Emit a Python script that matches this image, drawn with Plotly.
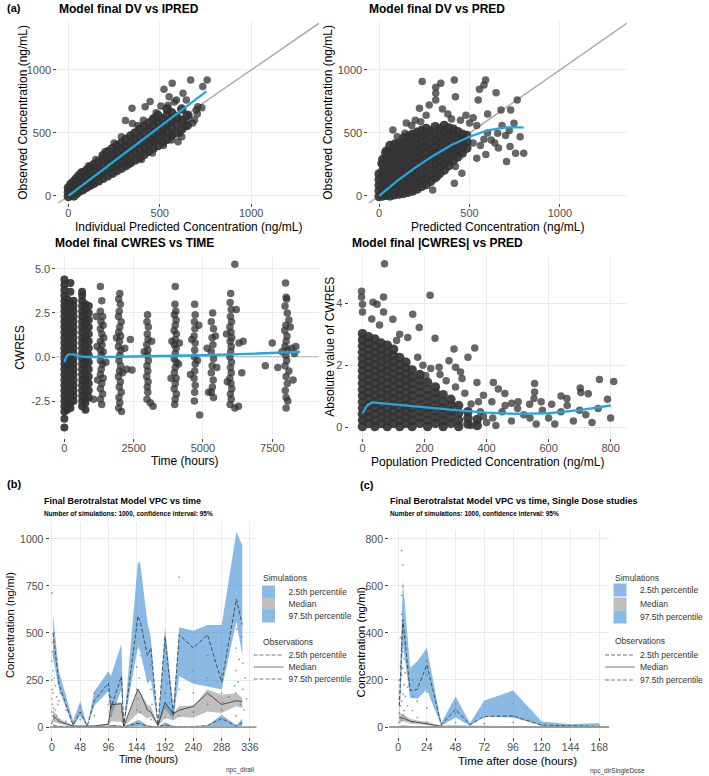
import plotly.graph_objects as go

W, H = 709, 776
FONT = "Liberation Sans, Arial, sans-serif"

# ===================== DATA =====================
# (a1) DV vs IPRED : dense core columns (IPRED, [DV...]) + scattered points
dv_ipred_columns = [
    (0, [-5, 30, 65]), (15, [10, 50, 95]), (30, [0, 35, 75, 115]), (45, [20, 60, 100, 140]),
    (60, [40, 80, 125, 165]), (80, [50, 95, 140, 185]), (100, [70, 115, 160, 205]),
    (120, [85, 130, 180, 225]), (140, [100, 150, 200, 250]), (165, [120, 170, 220, 270]),
    (190, [140, 190, 240, 290, 320]), (215, [160, 210, 260, 310, 350]),
    (240, [180, 230, 280, 330, 375]), (265, [200, 250, 300, 350, 400]),
    (290, [220, 270, 320, 370, 420]), (315, [240, 295, 345, 395, 450]),
    (340, [265, 315, 370, 420, 475]), (365, [285, 340, 395, 445, 500]),
    (390, [305, 360, 415, 470, 530]), (415, [330, 385, 440, 500, 555]),
    (440, [355, 410, 465, 525, 580]), (465, [380, 435, 495, 550, 610]),
    (490, [400, 460, 520, 580, 640]), (515, [425, 490, 550, 610]),
    (540, [450, 515, 575, 640, 690]), (565, [480, 540, 600, 660]),
    (590, [500, 570, 630]), (620, [530, 600, 690]), (650, [560, 640]),
]
dv_ipred_points = [
    (669, 921), (759, 921), (568, 894), (523, 847), (551, 788), (591, 762), (627, 815), (645, 762),
    (708, 709), (735, 868), (447, 749), (348, 696), (420, 709), (506, 714), (312, 598), (699, 683),
    (609, 603), (609, 497), (600, 431), (564, 444), (636, 550), (690, 603), (474, 444), (250, 420),
    (200, 350), (380, 560), (480, 660), (545, 720), (580, 745), (660, 640), (705, 650), (730, 700),
    (650, 590), (520, 500), (560, 470), (470, 610), (410, 600), (350, 575), (290, 470), (620, 470),
    (680, 580), (150, 290), (110, 240), (70, 190), (400, 290), (330, 250), (460, 340), (520, 400),
]
dv_ipred_smooth_x = [0, 100, 200, 300, 400, 500, 600, 700, 755]
dv_ipred_smooth_y = [0, 110, 220, 330, 440, 550, 660, 770, 830]

# (a2) DV vs PRED
dv_pred_columns = [
    (0, [-5, 40, 85, 130, 175]),
    (20, [0, 50, 100, 150, 200, 250, 290]),
    (40, [5, 55, 105, 155, 205, 255, 305, 355]),
    (60, [0, 50, 100, 150, 200, 250, 300, 350, 400]),
    (85, [10, 60, 110, 160, 210, 260, 310, 360, 410]),
    (110, [15, 65, 115, 165, 215, 265, 315, 365, 420]),
    (135, [20, 70, 120, 170, 220, 270, 320, 370, 420, 460]),
    (160, [30, 80, 130, 180, 230, 280, 330, 380, 430, 475]),
    (185, [40, 90, 140, 190, 240, 290, 340, 390, 440, 490]),
    (210, [55, 105, 155, 205, 255, 305, 355, 405, 455, 505]),
    (235, [75, 125, 175, 225, 275, 325, 375, 425, 475, 520]),
    (260, [90, 140, 190, 240, 290, 340, 390, 440, 490, 535]),
    (285, [115, 165, 215, 265, 315, 365, 415, 465, 515]),
    (310, [145, 195, 245, 295, 345, 395, 445, 495, 550]),
    (335, [180, 230, 280, 330, 380, 430, 480, 530]),
    (360, [205, 255, 305, 355, 405, 455, 505, 560]),
    (385, [240, 290, 340, 390, 440, 490, 540]),
    (410, [280, 330, 380, 430, 480, 530]),
    (435, [310, 360, 410, 460, 510]),
    (460, [340, 390, 440, 490]),
    (485, [380, 430, 480]),
]
dv_pred_points = [
    (238, 908), (341, 894), (313, 863), (313, 815), (416, 921), (589, 921), (580, 881), (555, 847),
    (647, 820), (764, 762), (728, 683), (674, 683), (548, 762), (422, 788), (313, 762), (223, 696),
    (277, 722), (76, 524), (142, 497), (746, 577), (800, 339), (755, 339), (705, 273), (724, 392),
    (656, 497), (620, 444), (422, 233), (458, 180), (416, 101), (323, 153), (296, 48), (600, 500),
    (680, 560), (700, 480), (640, 420), (560, 400), (520, 620), (480, 640), (380, 650), (350, 690),
    (260, 640), (200, 600), (150, 580), (600, 650), (540, 560), (720, 520), (780, 470), (660, 380),
    (590, 330), (540, 300), (450, 600), (500, 580), (400, 610), (230, 590), (180, 560), (100, 470),
    (30, 340), (10, 260), (520, 420), (580, 450),
]
dv_pred_smooth_x = [0, 50, 100, 200, 300, 400, 500, 600, 700, 800]
dv_pred_smooth_y = [0, 60, 120, 225, 320, 405, 470, 520, 545, 545]

# (a3) CWRES vs TIME
cwres_columns = [
    (0, [4.4, 4.1, 3.8, 3.5, 3.2, 2.9, 2.6, 2.3, 2.0, 1.7, 1.4, 1.1, 0.8, 0.5, 0.2, -0.1, -0.4,
         -0.7, -1.0, -1.3, -1.6, -1.9, -2.2, -2.5, -2.8, -3.1, -3.5, -4.0]),
    (100, [3.3, 3.0, 2.7, 2.4, 2.1, 1.8, 1.5, 1.2, 0.9, 0.6, 0.3, 0.0, -0.3, -0.6, -0.9, -1.2,
           -1.5, -1.8, -2.1, -2.4, -2.7, -3.0]),
    (220, [4.2, 3.7, 3.1, 2.8, 2.5, 2.2, 1.9, 1.6, 1.3, 1.0, 0.7, 0.4, 0.1, -0.2, -0.5, -0.8,
           -1.1, -1.4, -1.7, -2.0, -2.3, -2.6, -2.9]),
    (330, [3.2, 2.9, 2.6, 2.3, 2.0, 1.7, 1.4, 1.1, 0.8, 0.5, 0.2, -0.1, -0.4, -0.7, -1.0, -1.3,
           -1.6, -1.9, -2.2, -2.5]),
    (640, [3.7, 3.5, 3.2, 2.9, 2.6, 2.3, 2.0, 1.7, 1.4, 1.1, 0.8, 0.5, 0.2, -0.1, -0.4, -0.7,
           -1.0, -1.3, -1.6, -1.9, -2.2, -2.5, -2.8]),
    (760, [3.0, 2.7, 2.4, 2.1, 1.8, 1.5, 1.2, 0.9, 0.6, 0.3, 0.0, -0.3, -0.6, -0.9, -1.2, -1.5,
           -1.8, -2.1, -2.4, -2.6, -3.0]),
    (880, [2.9, 2.5, 2.1, 1.7, 1.3, 0.9, 0.5, 0.1, -0.3, -0.7, -1.1, -1.5, -1.9, -2.3]),
]
cwres_points = [
    (1300, 4.0), (1350, 3.2), (1300, 2.6), (1380, 2.3), (1320, 2.0), (1400, 1.8), (1300, 1.6),
    (1350, 1.3), (1420, 1.1), (1300, 0.9), (1360, 0.7), (1300, 0.4), (1400, 0.3), (1330, 0.1),
    (1300, -0.2), (1380, -0.4), (1330, -0.7), (1300, -1.0), (1400, -1.2), (1350, -1.5), (1300, -1.8),
    (1380, -2.1), (1300, -2.4), (1350, -2.7), (1150, 2.3), (1180, 0.6), (1500, -0.3), (1050, -2.4),
    (1200, -1.3),
    (2000, 3.6), (1960, 3.3), (2020, 3.0), (1980, 2.6), (1950, 2.3), (2050, 2.0), (2000, 1.7),
    (1960, 1.4), (2030, 1.2), (1990, 0.9), (1950, 0.6), (2040, 0.4), (2000, 0.1), (1970, -0.2),
    (2030, -0.5), (1990, -0.8), (1950, -1.1), (2020, -1.4), (1980, -1.7), (2050, -2.0), (1970, -2.3),
    (2000, -2.6), (1960, -2.9), (2060, -3.1), (1880, 1.1), (2100, -0.9), (2180, 0.5), (2250, -0.7),
    (2380, 1.0), (2440, -0.74),
    (3000, 2.4), (2980, 2.0), (3030, 1.7), (2990, 1.3), (3020, 1.0), (2970, 0.7), (3010, 0.4),
    (2990, 0.1), (3030, -0.2), (2980, -0.5), (3010, -0.8), (2970, -1.1), (3020, -1.4), (2990, -1.7),
    (3010, -2.0), (2980, -2.4), (3200, -2.8), (3100, -2.6), (2880, 0.3), (3150, 0.9),
    (4000, 4.0), (3990, 3.0), (4020, 2.6), (3970, 2.4), (4030, 2.1), (4000, 1.8), (3960, 1.5),
    (4040, 1.3), (4000, 1.0), (3970, 0.7), (4030, 0.5), (4000, 0.2), (3960, -0.1), (4040, -0.3),
    (4000, -0.6), (3970, -0.9), (4030, -1.2), (4000, -1.5), (3960, -1.8), (4040, -2.1), (4000, -2.4),
    (3980, -2.7), (3880, 0.9), (4120, -0.4), (4150, 0.8), (3850, -1.2),
    (4700, 3.0), (4720, 2.4), (4690, 2.0), (4710, 1.6), (4680, 1.2), (4720, 0.8), (4700, 0.4),
    (4690, 0.0), (4720, -0.4), (4700, -0.8), (4680, -1.2), (4720, -1.6), (4700, -2.0), (4690, -2.5),
    (4880, -3.3), (4600, 1.0), (4800, -0.2), (4850, 1.8), (4550, -1.0),
    (5350, 2.5), (5300, 2.0), (5380, 1.6), (5330, 1.1), (5360, 0.7), (5300, 0.3), (5380, -0.1),
    (5330, -0.5), (5300, -0.9), (5370, -1.3), (5340, -1.7), (5300, -2.0), (5380, -2.3), (5200, -2.0),
    (5450, 1.2), (5500, -0.6), (5150, 0.5),
    (6000, 3.6), (5980, 3.1), (6020, 2.7), (6200, 2.7), (5990, 2.3), (6030, 2.0), (5970, 1.7),
    (6010, 1.4), (6040, 1.1), (5980, 0.9), (6020, 0.6), (6000, 0.3), (5970, 0.0), (6030, -0.3),
    (5990, -0.6), (6020, -0.9), (5970, -1.2), (6010, -1.5), (6040, -1.8), (5990, -2.1), (6020, -2.4),
    (5980, -2.7), (6150, -2.9), (6280, -2.8), (6150, 5.27), (6300, 0.8), (6450, 0.9), (6400, -0.9),
    (5850, 1.3), (5880, -1.4),
    (7980, 4.2), (8000, 3.4), (8020, 3.3), (7960, 2.9), (8040, 2.5), (8100, 2.1), (7990, 1.8),
    (7950, 1.5), (8150, 1.7), (8030, 1.2), (8000, 0.9), (7960, 0.6), (8050, 0.4), (8200, 0.5),
    (7990, 0.1), (8020, -0.2), (7960, -0.5), (8100, -0.8), (8000, -1.1), (8040, -1.5), (7970, -1.9),
    (8000, -2.3), (8060, -2.5), (8000, -2.9), (8300, 0.2), (8350, 0.6), (7850, 0.3), (7700, -0.6),
    (7500, 0.8), (7250, -0.5), (8250, -1.3),
]
cwres_smooth_x = [0, 60, 150, 300, 500, 800, 1500, 3000, 5000, 7000, 8500]
cwres_smooth_y = [-0.3, 0.0, 0.15, 0.15, 0.05, 0.0, 0.0, 0.03, 0.1, 0.2, 0.3]

# (a4) |CWRES| vs PRED
abs_cwres_columns = [
    (0, [0.02, 0.22, 0.42, 0.62, 0.82, 1.02, 1.22, 1.42, 1.62, 1.82, 2.02, 2.22, 2.42, 2.62, 2.82, 3.02]),
    (20, [0.12, 0.32, 0.52, 0.72, 0.92, 1.12, 1.32, 1.52, 1.72, 1.92, 2.12, 2.32, 2.52, 2.72, 2.92]),
    (40, [0.02, 0.22, 0.42, 0.62, 0.82, 1.02, 1.22, 1.42, 1.62, 1.82, 2.02, 2.22, 2.42, 2.62, 2.85]),
    (60, [0.12, 0.32, 0.52, 0.72, 0.92, 1.12, 1.32, 1.52, 1.72, 1.92, 2.12, 2.32, 2.52, 2.72]),
    (80, [0.02, 0.22, 0.42, 0.62, 0.82, 1.02, 1.22, 1.42, 1.62, 1.82, 2.02, 2.22, 2.42, 2.65]),
    (100, [0.12, 0.32, 0.52, 0.72, 0.92, 1.12, 1.32, 1.52, 1.72, 1.92, 2.12, 2.32, 2.52]),
    (120, [0.02, 0.22, 0.42, 0.62, 0.82, 1.02, 1.22, 1.42, 1.62, 1.82, 2.02, 2.25]),
    (140, [0.12, 0.32, 0.52, 0.72, 0.92, 1.12, 1.32, 1.52, 1.72, 1.92, 2.1]),
    (160, [0.02, 0.22, 0.42, 0.62, 0.82, 1.02, 1.22, 1.42, 1.62, 1.85]),
    (185, [0.12, 0.32, 0.52, 0.72, 0.92, 1.12, 1.32, 1.52, 1.7]),
    (210, [0.02, 0.22, 0.42, 0.62, 0.82, 1.02, 1.22, 1.45]),
    (235, [0.12, 0.32, 0.52, 0.72, 0.92, 1.12, 1.3]),
    (260, [0.02, 0.22, 0.42, 0.62, 0.82, 1.05]),
    (285, [0.12, 0.32, 0.52, 0.72, 0.9]),
    (310, [0.02, 0.22, 0.45, 0.7]),
    (340, [0.1, 0.3, 0.5]),
    (370, [0.05, 0.25]),
]
abs_cwres_points = [
    (71, 5.28), (-3, 4.39), (-3, 4.21), (0, 3.97), (0, 3.72), (34, 4.04), (47, 3.97), (68, 4.21),
    (68, 3.72), (98, 3.49), (162, 3.65), (183, 3.22), (218, 4.26), (234, 2.87), (295, 2.53),
    (362, 2.56), (340, 2.26), (279, 2.15), (369, 1.44), (422, 1.44), (438, 1.23), (555, 1.41),
    (555, 1.14), (553, 0.93), (702, 1.27), (704, 1.12), (728, 1.08), (764, 1.54), (810, 1.48),
    (640, 1.01), (659, 0.93), (610, 0.74), (576, 0.82), (539, 0.74), (502, 0.82), (481, 0.77),
    (459, 1.09), (417, 0.82), (390, 1.03), (374, 0.82), (321, 1.57), (316, 1.78), (300, 1.94),
    (247, 1.94), (204, 1.67), (178, 2.26), (146, 2.9), (30, 3.5), (55, 3.3), (120, 3.0), (110, 2.8),
    (420, 0.3), (450, 0.5), (480, 0.2), (520, 0.4), (560, 0.1), (600, 0.3), (640, 0.5), (680, 0.2),
    (720, 0.4), (760, 0.6), (800, 0.3), (430, 0.05), (500, 0.6), (580, 0.55), (660, 0.7),
    (740, 0.15), (790, 0.9), (380, 0.5), (400, 0.15), (460, 0.7), (540, 0.3), (620, 0.1),
    (700, 0.55), (350, 0.75), (330, 1.1), (300, 1.3), (270, 1.5), (250, 1.7), (220, 1.9),
    (195, 2.0), (350, 0.05), (390, 0.35),
]
abs_cwres_smooth_x = [0, 15, 30, 80, 200, 300, 400, 500, 600, 700, 800]
abs_cwres_smooth_y = [0.45, 0.7, 0.8, 0.75, 0.65, 0.55, 0.47, 0.43, 0.45, 0.55, 0.7]

# (b) VPC vs time (all studies)
b_time = [2, 12, 36, 48, 60, 72, 96, 100, 118, 122, 146, 150, 162, 168, 180, 192, 206, 216, 240, 264, 288, 313, 323]
b_p975_ci_hi = [592, 297, 34, 136, 5, 190, 297, 270, 441, 10, 880, 870, 560, 470, 8, 530, 110, 530, 512, 543, 543, 1038, 968]
b_p975_ci_lo = [370, 200, 3, 60, 2, 115, 190, 50, 200, 3, 430, 400, 230, 250, 3, 100, 40, 270, 230, 215, 200, 560, 380]
b_obs_p975 = [500, 230, 10, 80, 5, 140, 235, 100, 270, 5, 590, 560, 380, 420, 10, 480, 60, 490, 420, 490, 240, 680, 545]
b_p50_ci_hi = [90, 45, 8, 8, 6, 8, 20, 130, 130, 6, 200, 185, 120, 110, 12, 130, 75, 110, 115, 200, 172, 180, 155]
b_p50_ci_lo = [30, 18, 2, 2, 1, 2, 8, 30, 30, 1, 75, 70, 45, 55, 3, 50, 35, 55, 50, 82, 75, 110, 100]
b_obs_p50 = [60, 30, 5, 5, 3, 5, 15, 118, 124, 5, 202, 180, 90, 80, 8, 131, 70, 90, 110, 180, 120, 140, 135]
b_p025_ci_hi = [15, 6, 1, 1, 1, 1, 3, 12, 8, 1, 38, 35, 10, 6, 2, 25, 6, 3, 3, 8, 65, 10, 45]
b_p025_ci_lo = [2, 1, 0, 0, 0, 0, 0, 2, 1, 0, 5, 5, 1, 1, 0, 3, 1, 0, 0, 0, 5, 0, 5]
b_obs_p025 = [5, 3, 1, 1, 1, 1, 2, 8, 5, 1, 20, 18, 5, 3, 1, 12, 3, 2, 2, 8, 45, 5, 25]
b_obs_points = [
    (0, 20), (0, 80), (0, 150), (0, 250), (0, 350), (0, 712), (1, 30), (1, 120), (1, 200), (1, 400),
    (2, 60), (2, 180), (2, 300), (2, 450), (3, 40), (3, 100), (3, 380), (4, 50), (4, 260), (4, 500),
    (6, 90), (6, 220), (8, 60), (8, 160), (10, 120), (12, 40), (12, 140), (12, 260), (14, 180),
    (24, 30), (24, 90), (36, 10), (48, 40), (48, 110), (72, 60), (72, 180), (96, 30), (96, 120),
    (96, 220), (100, 60), (100, 160), (118, 80), (118, 240), (120, 30), (120, 180), (144, 20),
    (144, 90), (144, 200), (144, 320), (144, 420), (144, 520), (146, 150), (148, 260), (150, 80),
    (150, 380), (168, 40), (168, 200), (168, 330), (170, 120), (192, 50), (192, 180), (192, 300),
    (192, 420), (196, 230), (200, 130), (204, 90), (216, 60), (216, 200), (216, 420), (216, 797),
    (240, 80), (240, 180), (240, 300), (264, 120), (264, 260), (264, 380), (288, 90), (288, 180),
    (288, 280), (290, 130), (300, 160), (310, 220), (312, 60), (312, 180), (312, 300), (312, 420),
    (314, 520), (316, 240), (318, 360), (320, 120), (322, 480), (324, 200), (324, 340), (326, 90),
    (328, 260), (330, 150),
]

# (c) VPC vs time after dose (single dose studies)
c_time = [1, 4, 10, 16, 24, 36, 48, 60, 72, 96, 120, 144, 168]
c_p975_ci_hi = [120, 624, 251, 280, 336, 17, 130, 17, 113, 155, 23, 12, 17]
c_p975_ci_lo = [20, 350, 125, 120, 160, 5, 40, 5, 45, 40, 5, 3, 5]
c_obs_p975 = [90, 457, 155, 160, 265, 10, 75, 10, 45, 47, 8, 4, 3]
c_p50_ci_hi = [60, 55, 35, 28, 22, 5, 5, 3, 4, 4, 2, 1, 1]
c_p50_ci_lo = [15, 25, 15, 12, 10, 1, 1, 1, 1, 1, 0, 0, 0]
c_obs_p50 = [40, 38, 25, 20, 15, 3, 3, 2, 2, 2, 1, 0.5, 0.5]
c_p025_ci_hi = [5, 8, 4, 3, 3, 1, 1, 1, 1, 1, 0.5, 0.3, 0.3]
c_p025_ci_lo = [0, 0, 0, 0, 0, 0, 0, 0, 0, 0, 0, 0, 0]
c_obs_p025 = [2, 3, 2, 1, 1, 0.5, 0.5, 0.3, 0.3, 0.3, 0.2, 0.1, 0.1]
c_obs_points = [
    (1, 20), (1, 60), (1, 120), (1, 200), (2, 40), (2, 90), (2, 150), (2, 260), (2, 380), (3, 30),
    (3, 110), (3, 220), (3, 340), (3, 480), (3, 560), (3, 750), (4, 50), (4, 140), (4, 250),
    (4, 320), (4, 420), (4, 600), (4, 690), (5, 70), (5, 180), (5, 290), (5, 400), (6, 40),
    (6, 130), (6, 230), (6, 350), (8, 30), (8, 90), (8, 170), (8, 260), (12, 20), (12, 70),
    (12, 130), (12, 200), (16, 40), (16, 110), (24, 20), (24, 80), (24, 150), (24, 220), (24, 280),
    (36, 5), (48, 20), (48, 60), (48, 100), (72, 15), (72, 40), (96, 20), (96, 45), (120, 5), (168, 5),
]

# axis ranges and ticks
P1_XR, P1_YR = [-60, 1370], [-56, 1381]
P3_XR, P3_YR = [-286, 9179], [-4.6, 5.68]
P4_XR, P4_YR = [-45, 852], [-0.35, 5.5]
B_XR, B_YR = [-4, 347], [-53, 1090]
C_XR, C_YR = [-7.5, 176], [-42.5, 838]

# ===================== FIGURE =====================
fig = go.Figure()
PT = dict(size=7.5, color="rgba(51,51,51,0.75)", line=dict(width=0))
BLUE = "#24A7E0"
RIB_BLUE = "rgba(60,140,210,0.6)"
RIB_GREY = "rgba(128,128,128,0.5)"
OBS_LINE = "#333333"


def expand(columns):
    xs, ys = [], []
    for x, yl in columns:
        for y in yl:
            xs.append(x)
            ys.append(y)
    return xs, ys


def scatter_panel(columns, pairs, sx, sy, xa, ya, core_size=9.5):
    cx, cy = expand(columns)
    fig.add_trace(go.Scatter(x=cx, y=cy, mode="markers",
                             marker=dict(size=core_size, color="rgba(51,51,51,0.92)", line=dict(width=0)),
                             xaxis=xa, yaxis=ya, showlegend=False, hoverinfo="skip"))
    fig.add_trace(go.Scatter(x=[p[0] for p in pairs], y=[p[1] for p in pairs], mode="markers",
                             marker=PT, xaxis=xa, yaxis=ya, showlegend=False, hoverinfo="skip"))
    fig.add_trace(go.Scatter(x=sx, y=sy, mode="lines", line=dict(color=BLUE, width=2.3),
                             xaxis=xa, yaxis=ya, showlegend=False, hoverinfo="skip"))


# identity lines (y = x) spanning the axis range
for xa, ya in (("x", "y"), ("x2", "y2")):
    ends = [min(P1_XR[0], P1_YR[0]), max(P1_XR[1], P1_YR[1])]
    fig.add_trace(go.Scatter(x=ends, y=ends, mode="lines", line=dict(color="#ABABAB", width=1.5),
                             xaxis=xa, yaxis=ya, showlegend=False, hoverinfo="skip"))

scatter_panel(dv_ipred_columns, dv_ipred_points, dv_ipred_smooth_x, dv_ipred_smooth_y, "x", "y")
scatter_panel(dv_pred_columns, dv_pred_points, dv_pred_smooth_x, dv_pred_smooth_y, "x2", "y2")
scatter_panel(cwres_columns, cwres_points, cwres_smooth_x, cwres_smooth_y, "x3", "y3", core_size=8)
scatter_panel(abs_cwres_columns, abs_cwres_points, abs_cwres_smooth_x, abs_cwres_smooth_y, "x4", "y4")


def vpc_panel(t, bands, obs, dots, xa, ya):
    fig.add_trace(go.Scatter(x=[p[0] for p in dots], y=[p[1] for p in dots], mode="markers",
                             marker=dict(size=1.8, color="rgba(70,70,70,0.55)"),
                             xaxis=xa, yaxis=ya, showlegend=False, hoverinfo="skip"))
    for lo, hi, col in bands:
        fig.add_trace(go.Scatter(x=t + t[::-1], y=hi + lo[::-1], fill="toself", fillcolor=col,
                                 mode="lines", line=dict(width=0), xaxis=xa, yaxis=ya,
                                 showlegend=False, hoverinfo="skip"))
    for vals, dash in obs:
        fig.add_trace(go.Scatter(x=t, y=vals, mode="lines",
                                 line=dict(color=OBS_LINE, width=0.8, dash=dash),
                                 xaxis=xa, yaxis=ya, showlegend=False, hoverinfo="skip"))


DASH = "4px,2px"
vpc_panel(b_time,
          [(b_p975_ci_lo, b_p975_ci_hi, RIB_BLUE), (b_p025_ci_lo, b_p025_ci_hi, RIB_BLUE),
           (b_p50_ci_lo, b_p50_ci_hi, RIB_GREY)],
          [(b_obs_p975, DASH), (b_obs_p025, DASH), (b_obs_p50, "solid")],
          b_obs_points, "x5", "y5")
vpc_panel(c_time,
          [(c_p975_ci_lo, c_p975_ci_hi, RIB_BLUE), (c_p025_ci_lo, c_p025_ci_hi, RIB_BLUE),
           (c_p50_ci_lo, c_p50_ci_hi, RIB_GREY)],
          [(c_obs_p975, DASH), (c_obs_p025, DASH), (c_obs_p50, "solid")],
          c_obs_points, "x6", "y6")

# zero reference lines
fig.add_shape(type="line", xref="x3 domain", yref="y3", x0=0, x1=1, y0=0, y1=0,
              line=dict(color="#ABABAB", width=1.5), layer="below")
for xr, yr in (("x5 domain", "y5"), ("x6 domain", "y6")):
    fig.add_shape(type="line", xref=xr, yref=yr, x0=0, x1=1, y0=0, y1=0,
                  line=dict(color="#9A9A9A", width=1.8), layer="above")

# ---------- legends (one small legend per entry) ----------
legend_items = [
    # (panel, name, kind, y_px)
    ("b", "2.5th percentile", "sim_blue", 592), ("b", "Median", "sim_grey", 604),
    ("b", "97.5th percentile", "sim_blue", 616),
    ("b", "2.5th percentile", "dash", 655), ("b", "Median", "solid", 667),
    ("b", "97.5th percentile", "dash", 679),
    ("c", "2.5th percentile", "sim_blue", 590), ("c", "Median", "sim_grey", 604),
    ("c", "97.5th percentile", "sim_blue", 617),
    ("c", "2.5th percentile", "dash", 655), ("c", "Median", "solid", 667),
    ("c", "97.5th percentile", "dash", 680),
]
legend_left_px = {"b": 251, "c": 606}
legend_layouts = {}
for i, (panel, name, kind, ypx) in enumerate(legend_items):
    lid = "legend" if i == 0 else f"legend{i + 1}"
    if kind.startswith("sim"):
        col = "rgb(138,186,228)" if kind == "sim_blue" else "rgb(191,191,191)"
        tr = go.Scatter(x=[None], y=[None], mode="markers",
                        marker=dict(symbol="square", size=13, color=col), name=name)
    else:
        tr = go.Scatter(x=[None], y=[None], mode="lines",
                        line=dict(color="#777777", width=1, dash=DASH if kind == "dash" else "solid"),
                        name=name)
    tr.update(legend=lid, showlegend=True, hoverinfo="skip")
    fig.add_trace(tr)
    legend_layouts[lid] = dict(x=legend_left_px[panel] / W, y=1 - ypx / H, xanchor="left",
                               yanchor="middle", bgcolor="rgba(0,0,0,0)", borderwidth=0,
                               font=dict(size=8.5, color="#333333", family=FONT),
                               itemwidth=30, tracegroupgap=0)


# ---------- axes ----------
def axis(dom_px, rng, tickvals, ticktext=None, fs=11, vertical=False):
    if vertical:
        dom = [1 - dom_px[1] / H, 1 - dom_px[0] / H]
    else:
        dom = [dom_px[0] / W, dom_px[1] / W]
    d = dict(domain=dom, range=rng, tickvals=tickvals, showgrid=True, gridcolor="#EBEBEB",
             gridwidth=1, zeroline=False, showline=False, ticks="outside", ticklen=3,
             tickwidth=1, tickcolor="#444444", fixedrange=True,
             tickfont=dict(size=fs, color="#4D4D4D", family=FONT))
    if not vertical:
        d["ticklabelstandoff"] = -3
    if ticktext is not None:
        d["ticktext"] = ticktext
    return d


layout_axes = dict(
    xaxis=axis((58, 322), P1_XR, [0, 500, 1000]),
    yaxis=axis((22, 203), P1_YR, [0, 500, 1000], vertical=True),
    xaxis2=axis((372, 633), P1_XR, [0, 500, 1000]),
    yaxis2=axis((22, 203), P1_YR, [0, 500, 1000], vertical=True),
    xaxis3=axis((57, 322), P3_XR, [0, 2500, 5000, 7500]),
    yaxis3=axis((257, 438), P3_YR, [-2.5, 0, 2.5, 5.0], ["-2.5", "0.0", "2.5", "5.0"], vertical=True),
    xaxis4=axis((352, 633), P4_XR, [0, 200, 400, 600, 800]),
    yaxis4=axis((257, 438), P4_YR, [0, 2, 4], vertical=True),
    xaxis5=axis((50, 259), B_XR, [0, 48, 96, 144, 192, 240, 288, 336], fs=10.5),
    yaxis5=axis((522, 737), B_YR, [0, 250, 500, 750, 1000], fs=10.5, vertical=True),
    xaxis6=axis((393, 615), C_XR, [0, 24, 48, 72, 96, 120, 144, 168], fs=10.5),
    yaxis6=axis((530, 737), C_YR, [0, 200, 400, 600, 800], fs=10.5, vertical=True),
)
for k in range(1, 7):
    sfx = "" if k == 1 else str(k)
    layout_axes["xaxis" + sfx]["anchor"] = "y" + sfx
    layout_axes["yaxis" + sfx]["anchor"] = "x" + sfx

# ---------- text ----------
annotations = []


def txt(text, x, y, size, bold=False, xanchor="left", angle=0, color="#000000"):
    annotations.append(dict(text=f"<b>{text}</b>" if bold else text, x=x / W, y=1 - y / H,
                            xref="paper", yref="paper", xanchor=xanchor, yanchor="middle",
                            textangle=angle, showarrow=False,
                            font=dict(size=size, color=color, family=FONT)))


txt("(a)", 5, 8, 11, bold=True)
txt("Model final DV vs IPRED", 58, 9, 12, bold=True)
txt("Model final DV vs PRED", 371, 9, 12, bold=True)
txt("Model final CWRES vs TIME", 54, 243, 12, bold=True)
txt("Model final |CWRES| vs PRED", 353, 243, 12, bold=True)
txt("Observed Concentration (ng/mL)", 23, 112, 12, xanchor="center", angle=-90)
txt("Observed Concentration (ng/mL)", 331, 112, 12, xanchor="center", angle=-90)
txt("Individual Predicted Concentration (ng/mL)", 190, 227, 12, xanchor="center")
txt("Predicted Concentration (ng/mL)", 502, 227, 12, xanchor="center")
txt("CWRES", 20, 347, 12, xanchor="center", angle=-90)
txt("Absolute value of CWRES", 333, 347, 12, xanchor="center", angle=-90)
txt("Time (hours)", 187, 461, 12, xanchor="center")
txt("Population Predicted Concentration (ng/mL)", 492, 462, 12, xanchor="center")

txt("(b)", 5, 484, 11, bold=True)
txt("Final Berotralstat Model VPC vs time", 42, 501, 9, bold=True)
txt("Number of simulations: 1000, confidence interval: 95%", 42, 514, 6.5, bold=True)
txt("Concentration (ng/ml)", 10, 625, 11, xanchor="center", angle=-90)
txt("Time (hours)", 150, 759, 10.5, xanchor="center")
txt("npc_dirall", 259, 770, 6.5, xanchor="right", color="#333333")
txt("Simulations", 264, 578, 8.5, color="#333333")
txt("Observations", 264, 642, 8.5, color="#333333")

txt("(c)", 362, 485, 11, bold=True)
txt("Final Berotralstat Model VPC vs time, Single Dose studies", 392, 501, 9, bold=True)
txt("Number of simulations: 1000, confidence interval: 95%", 392, 514, 6.5, bold=True)
txt("Concentration (ng/ml)", 365, 642, 11.5, xanchor="center", angle=-90)
txt("Time after dose (hours)", 523, 761, 11.5, xanchor="center")
txt("npc_dirSingleDose", 653, 771, 6.5, xanchor="right", color="#333333")
txt("Simulations", 619, 578, 8.5, color="#333333")
txt("Observations", 619, 641, 8.5, color="#333333")

fig.update_layout(width=W, height=H, margin=dict(l=0, r=0, t=0, b=0),
                  paper_bgcolor="white", plot_bgcolor="white",
                  font=dict(family=FONT, color="#000000"),
                  annotations=annotations, **layout_axes, **legend_layouts)

fig.write_html("out.html", config={"displayModeBar": False},
               post_script="document.body.style.margin='0px';document.body.style.padding='0px';"
                           "document.body.style.overflow='hidden';")
